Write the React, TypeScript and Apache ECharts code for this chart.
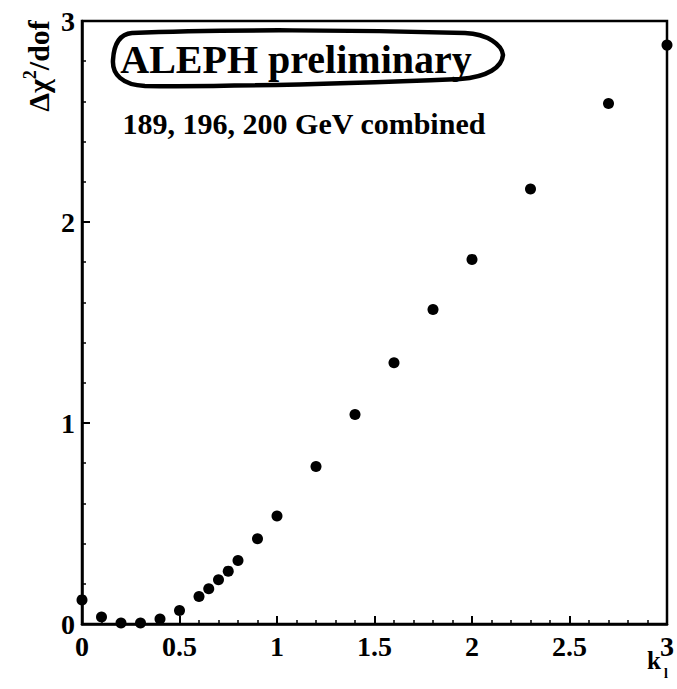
import React, { useEffect, useRef } from "react";
import * as echarts from "echarts";

// k_l scan points and the corresponding Δχ²/dof values
const klValues = [0, 0.1, 0.2, 0.3, 0.4, 0.5, 0.6, 0.65, 0.7, 0.75, 0.8, 0.9, 1.0, 1.2, 1.4, 1.6, 1.8, 2.0, 2.3, 2.7, 3.0];
const chi2Values = [0.12, 0.035, 0.005, 0.005, 0.025, 0.067, 0.137, 0.175, 0.22, 0.263, 0.316, 0.424, 0.537, 0.784, 1.042, 1.3, 1.565, 1.814, 2.164, 2.59, 2.88];

const titleText = "ALEPH preliminary";
const subtitleText = "189, 196, 200 GeV combined";

const FONT = "'Liberation Serif', 'Times New Roman', serif";

// hand-drawn looking outline around the title
const outlinePath =
  "M 22 4 C 110 0 250 1 355 4 C 378 5 392 16 393 26 C 392 38 378 48 350 50 C 250 54 120 58 35 57 C 12 56 2 45 3 31 C 4 14 10 5 22 4 Z";
echarts.graphic.registerShape("titleOutline", echarts.graphic.extendPath(outlinePath, {}));

export default function App() {
  const ref = useRef<HTMLDivElement>(null);

  useEffect(() => {
    if (!ref.current) return;
    const chart = echarts.init(ref.current, null, { renderer: "svg" });
    const data = klValues.map((k, i) => [k, chi2Values[i]]);

    const axisLabel = {
      color: "#000",
      fontFamily: FONT,
      fontWeight: "bold" as const,
      fontSize: 28,
    };

    chart.setOption({
      animation: false,
      backgroundColor: "#fff",
      grid: {
        left: 82,
        right: 5,
        top: 21,
        bottom: 65,
        show: true,
        borderColor: "#000",
        borderWidth: 2.5,
        backgroundColor: "transparent",
      },
      xAxis: {
        type: "value",
        min: 0,
        max: 3,
        interval: 0.5,
        axisLine: { show: true, lineStyle: { color: "#000", width: 2.5 } },
        axisTick: { show: true, inside: true, length: 8, lineStyle: { color: "#000", width: 2 } },
        minorTick: { show: true, splitNumber: 5, length: 4, lineStyle: { color: "#000", width: 1.5 } },
        splitLine: { show: false },
        axisLabel: { ...axisLabel, margin: 8 },
      },
      yAxis: {
        type: "value",
        min: 0,
        max: 3,
        interval: 1,
        axisLine: { show: true, lineStyle: { color: "#000", width: 2.5 } },
        axisTick: { show: true, inside: true, length: 8, lineStyle: { color: "#000", width: 2 } },
        minorTick: { show: true, splitNumber: 5, length: 4, lineStyle: { color: "#000", width: 1.5 } },
        splitLine: { show: false },
        axisLabel: { ...axisLabel, margin: 7 },
      },
      series: [
        {
          type: "scatter",
          data,
          symbol: "circle",
          symbolSize: 11,
          itemStyle: { color: "#000", opacity: 1 },
          clip: false,
        },
      ],
      graphic: [
        {
          type: "titleOutline",
          x: 110,
          y: 29,
          style: { fill: "none", stroke: "#000", lineWidth: 4.5 },
          z: 10,
        },
        {
          type: "text",
          x: 296,
          y: 59,
          style: {
            text: titleText,
            fill: "#000",
            font: `bold 40px ${FONT}`,
            align: "center",
            verticalAlign: "middle",
          },
          z: 10,
        },
        {
          type: "text",
          x: 304,
          y: 123,
          style: {
            text: subtitleText,
            fill: "#000",
            font: `bold 30px ${FONT}`,
            align: "center",
            verticalAlign: "middle",
          },
          z: 10,
        },
        {
          type: "text",
          x: 38,
          y: 66,
          rotation: Math.PI / 2,
          style: {
            text: "{a|Δχ}{s|2}{a|/dof}",
            align: "center",
            verticalAlign: "middle",
            rich: {
              a: { fontFamily: FONT, fontWeight: "bold", fontSize: 30, fill: "#000", color: "#000", lineHeight: 34 },
              s: { fontFamily: FONT, fontWeight: "bold", fontSize: 18, fill: "#000", color: "#000", verticalAlign: "top", lineHeight: 34 },
            },
          },
          z: 10,
        },
        {
          type: "text",
          x: 647,
          y: 673,
          style: {
            text: "k",
            fill: "#000",
            font: `bold 25px ${FONT}`,
            align: "left",
            verticalAlign: "bottom",
          },
          z: 10,
        },
        {
          type: "text",
          x: 664,
          y: 680,
          style: {
            text: "l",
            fill: "#000",
            font: `bold 14px ${FONT}`,
            align: "left",
            verticalAlign: "bottom",
          },
          z: 10,
        },
      ],
    });

    return () => chart.dispose();
  }, []);

  return (
    <div
      ref={ref}
      style={{ position: "fixed", left: 0, top: 0, width: 677, height: 689, background: "#fff" }}
    />
  );
}
